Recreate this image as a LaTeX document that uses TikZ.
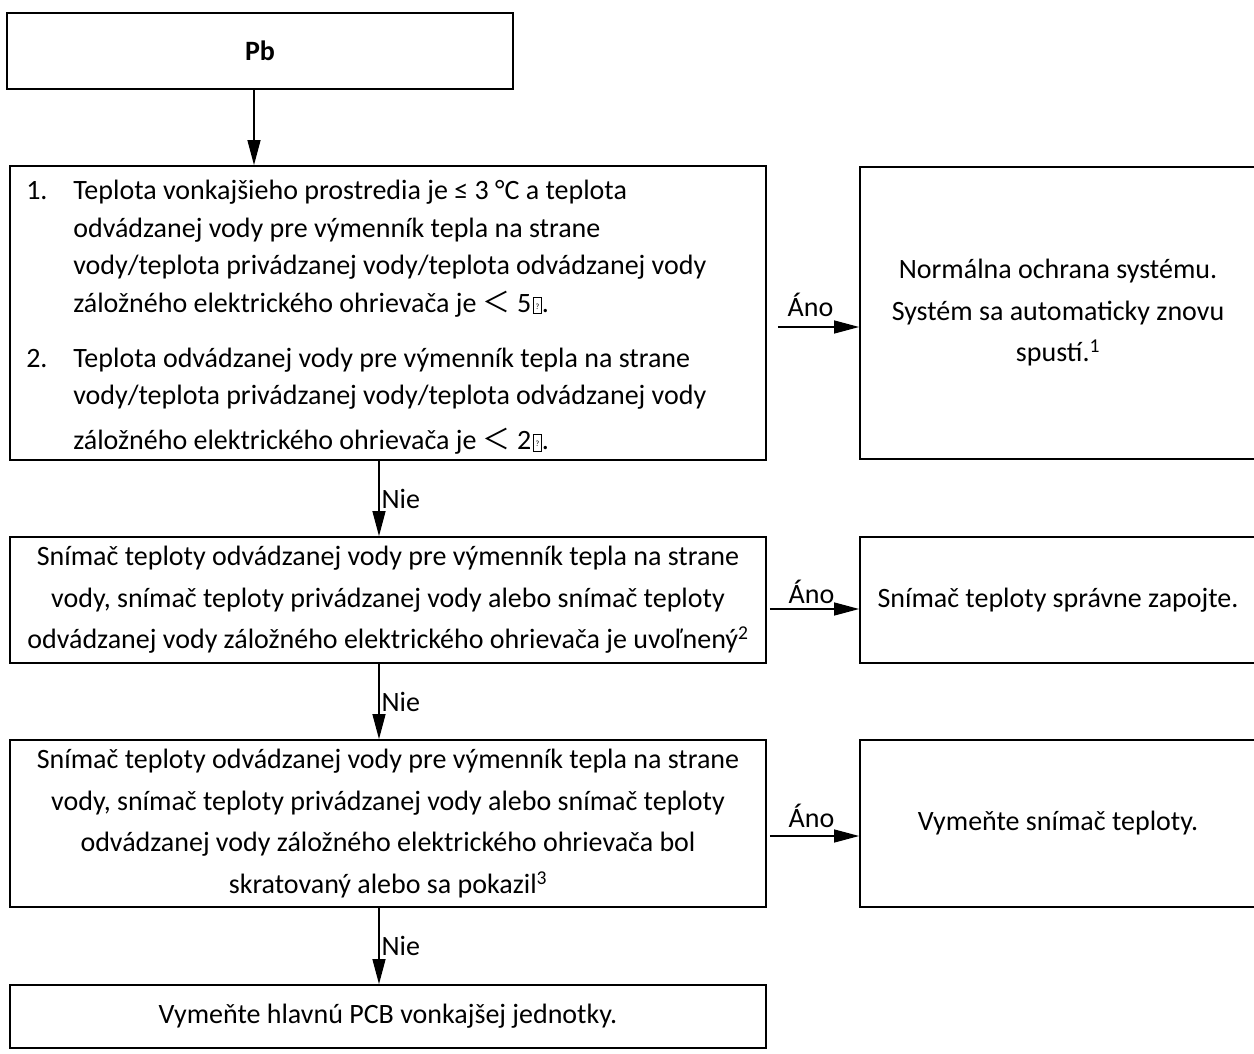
\documentclass[tikz,border=0pt]{standalone}
\usepackage{fontspec}
\setmainfont{Carlito}
\newfontfamily\cjkfont{Noto Sans CJK SC}
\usepackage{tikz}
\usetikzlibrary{arrows.meta,positioning,calc}
% full-width less-than and the empty glyph box of the source
\newcommand{\wlt}{{\cjkfont ＜}}
\newcommand{\qbox}{\kern1.5pt{\fboxsep=0pt\fboxrule=0.7pt\framebox[9pt][c]{\rule[-1pt]{0pt}{16pt}\raisebox{3pt}{\fontsize{8}{8}\selectfont ?}}}}

\begin{document}
\begin{tikzpicture}[x=1pt,y=-1pt,
  box/.style={draw,line width=1.8pt,inner sep=0pt,align=center,font=\fontsize{28}{41.5}\selectfont},
  arr/.style={line width=1.3pt,-{Triangle[length=25pt,width=13pt]}},
  lbl/.style={font=\fontsize{28}{34}\selectfont,inner sep=2pt}]
  \useasboundingbox (0,0) rectangle (1254,1054);

  % left column
  \node[box,minimum width=506,minimum height=76] (pb) at (260,51) {\textbf{Pb}};
  \node[box,minimum width=756,minimum height=294] (cond) at (388,313) {};
  \node[anchor=north west,align=left,inner sep=0pt,font=\fontsize{28}{37.5}\selectfont] (condtext)
    at ($(cond.north west)+(17,15)$)
    {\makebox[47pt][l]{1.}Teplota vonkajšieho prostredia je ≤ 3 °C a teplota\\
     \hspace*{47pt}odvádzanej vody pre výmenník tepla na strane\\
     \hspace*{47pt}vody/teplota privádzanej vody/teplota odvádzanej vody\\
     \hspace*{47pt}záložného elektrického ohrievača je \wlt\ 5\qbox.\\[17.5pt]
     \makebox[47pt][l]{2.}Teplota odvádzanej vody pre výmenník tepla na strane\\
     \hspace*{47pt}vody/teplota privádzanej vody/teplota odvádzanej vody\\[7.5pt]
     \hspace*{47pt}záložného elektrického ohrievača je \wlt\ 2\qbox.};
  \node[box,minimum width=756,minimum height=126] (loose) at (388,600)
    {Snímač teploty odvádzanej vody pre výmenník tepla na strane\\
     vody, snímač teploty privádzanej vody alebo snímač teploty\\
     odvádzanej vody záložného elektrického ohrievača je uvoľnený\textsuperscript{2}};
  \node[box,minimum width=756,minimum height=167] (short) at (388,823.5)
    {Snímač teploty odvádzanej vody pre výmenník tepla na strane\\
     vody, snímač teploty privádzanej vody alebo snímač teploty\\
     odvádzanej vody záložného elektrického ohrievača bol\\
     skratovaný alebo sa pokazil\textsuperscript{3}};
  \node[box,minimum width=756,minimum height=63] (pcb) at (388,1016.5)
    {Vymeňte hlavnú PCB vonkajšej jednotky.};

  % right column
  \node[box,minimum width=396,minimum height=292] (ok1) at (1058,313)
    {Normálna ochrana systému.\\Systém sa automaticky znovu\\spustí.\textsuperscript{1}};
  \node[box,minimum width=396,minimum height=126] (ok2) at (1058,600) {Snímač teploty správne zapojte.};
  \node[box,minimum width=396,minimum height=167] (ok3) at (1058,823.5) {Vymeňte snímač teploty.};

  % connectors
  \draw[arr] ([xshift=-6pt]pb.south) -- ([xshift=-6pt]pb.south |- cond.north);
  \draw[arr] ([xshift=-9pt]cond.south) -- ([xshift=-9pt]loose.north) node[lbl,midway,right] {Nie};
  \draw[arr] ([xshift=-9pt]loose.south) -- ([xshift=-9pt]short.north) node[lbl,midway,right] {Nie};
  \draw[arr] ([xshift=-9pt]short.south) -- ([xshift=-9pt]pcb.north) node[lbl,midway,right] {Nie};
  \draw[arr] ([xshift=11pt,yshift=-14pt]cond.east) -- ([yshift=-14pt]ok1.west)
    node[lbl,midway,above=8pt,xshift=-8pt] {Áno};
  \draw[arr] ([xshift=3pt,yshift=-9pt]loose.east) -- ([yshift=-9pt]ok2.west)
    node[lbl,midway,above=3pt,xshift=-3pt] {Áno};
  \draw[arr] ([xshift=3pt,yshift=-12.5pt]short.east) -- ([yshift=-12.5pt]ok3.west)
    node[lbl,midway,above=6pt,xshift=-3pt] {Áno};
\end{tikzpicture}
\end{document}
